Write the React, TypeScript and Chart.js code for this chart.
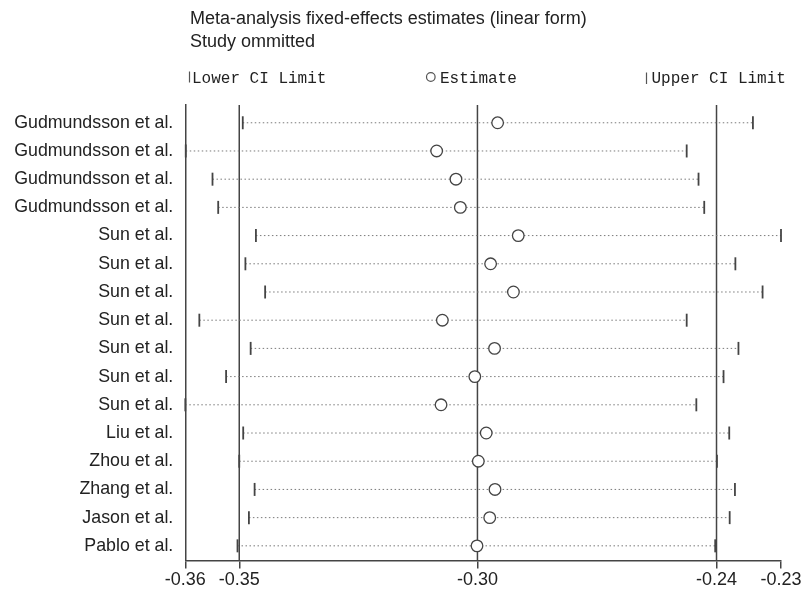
import { useEffect, useRef } from "react";
import { Chart, registerables } from "chart.js";

Chart.register(...registerables);

const studies = [
  "Gudmundsson et al.",
  "Gudmundsson et al.",
  "Gudmundsson et al.",
  "Gudmundsson et al.",
  "Sun et al.",
  "Sun et al.",
  "Sun et al.",
  "Sun et al.",
  "Sun et al.",
  "Sun et al.",
  "Sun et al.",
  "Liu et al.",
  "Zhou et al.",
  "Zhang et al.",
  "Jason et al.",
  "Pablo et al.",
];

const lowerCI = [
  -0.3515, -0.3645, -0.3584, -0.3571, -0.3485, -0.3509, -0.3464, -0.3614,
  -0.3497, -0.3553, -0.3646, -0.3514, -0.3523, -0.3488, -0.3501, -0.3527,
];
const estimates = [
  -0.2934, -0.3073, -0.3029, -0.3019, -0.2887, -0.295, -0.2898, -0.306,
  -0.2941, -0.2986, -0.3063, -0.296, -0.2978, -0.294, -0.2952, -0.2981,
];
const upperCI = [
  -0.2352, -0.2503, -0.2476, -0.2463, -0.2288, -0.2392, -0.233, -0.2503,
  -0.2385, -0.2419, -0.2481, -0.2406, -0.2434, -0.2393, -0.2405, -0.2438,
];

// pooled fixed-effects result: lower CI, estimate, upper CI
const pooledValues = [-0.3523, -0.298, -0.2435];

const titleLines = [
  "Meta-analysis fixed-effects estimates (linear form)",
  "Study ommitted",
];
const legendLabels = ["Lower CI Limit", "Estimate", "Upper CI Limit"];

const Y_MIN = 0.37;
const Y_MAX = 16.52;

export default function App() {
  const canvasRef = useRef<HTMLCanvasElement | null>(null);

  useEffect(() => {
    if (!canvasRef.current) return;
    const xMin = Math.min(...lowerCI);
    const xMax = Math.max(...upperCI);
    const xTicks = [xMin, ...pooledValues, xMax];

    const rows = studies.map((_, i) => i + 1);

    const dotted: any[] = [];
    rows.forEach((y, i) => {
      dotted.push({ x: lowerCI[i], y });
      dotted.push({ x: upperCI[i], y });
      dotted.push({ x: upperCI[i], y: null });
    });

    const textPlugin = {
      id: "texts",
      afterDraw(chart: any) {
        const ctx = chart.ctx as CanvasRenderingContext2D;
        ctx.save();
        ctx.fillStyle = "#222";
        ctx.textAlign = "left";
        ctx.textBaseline = "alphabetic";
        ctx.font = '18px "Liberation Sans", Arial, sans-serif';
        ctx.fillText(titleLines[0], 190, 23.5);
        ctx.fillText(titleLines[1], 190, 46.5);

        ctx.font = '16px "Liberation Mono", "DejaVu Sans Mono", monospace';
        ctx.strokeStyle = "#555";
        ctx.lineWidth = 1.2;
        // lower CI legend
        ctx.beginPath();
        ctx.moveTo(189.5, 71.5);
        ctx.lineTo(189.5, 82.5);
        ctx.stroke();
        ctx.fillText(legendLabels[0], 192, 82.5);
        // estimate legend
        ctx.beginPath();
        ctx.arc(430.8, 77, 4.3, 0, Math.PI * 2);
        ctx.stroke();
        ctx.fillText(legendLabels[1], 440, 82.5);
        // upper CI legend
        ctx.beginPath();
        ctx.moveTo(646.5, 72.5);
        ctx.lineTo(646.5, 84);
        ctx.stroke();
        ctx.fillText(legendLabels[2], 651.5, 82.5);
        ctx.restore();
      },
    };

    const chart = new Chart(canvasRef.current, {
      type: "scatter",
      data: {
        datasets: [
          {
            label: "Estimate",
            data: rows.map((y, i) => ({ x: estimates[i], y })),
            pointStyle: "circle",
            pointRadius: 5.8,
            pointBorderWidth: 1.3,
            pointBorderColor: "#444",
            pointBackgroundColor: "rgba(255,255,255,1)",
            showLine: false,
            order: 0,
            clip: false,
          } as any,
          {
            label: "Lower CI Limit",
            data: rows.map((y, i) => ({ x: lowerCI[i], y })),
            pointStyle: "line",
            rotation: 90,
            pointRadius: 6.5,
            pointBorderWidth: 1.8,
            pointBorderColor: "#444",
            showLine: false,
            order: 1,
            clip: false,
          } as any,
          {
            label: "Upper CI Limit",
            data: rows.map((y, i) => ({ x: upperCI[i], y })),
            pointStyle: "line",
            rotation: 90,
            pointRadius: 6.5,
            pointBorderWidth: 1.8,
            pointBorderColor: "#444",
            showLine: false,
            order: 1,
            clip: false,
          } as any,
          {
            label: "range",
            data: dotted,
            showLine: true,
            spanGaps: false,
            borderColor: "#7a7a7a",
            borderWidth: 1,
            borderDash: [1.5, 2.5],
            pointRadius: 0,
            order: 2,
            clip: false,
          } as any,
          ...pooledValues.map((v) => ({
            label: "pooled",
            data: [
              { x: v, y: Y_MIN },
              { x: v, y: Y_MAX },
            ],
            showLine: true,
            borderColor: "#444",
            borderWidth: 1.5,
            pointRadius: 0,
            order: 3,
          })),
        ],
      },
      options: {
        animation: false,
        responsive: true,
        maintainAspectRatio: false,
        layout: { padding: { top: 105, right: 24, left: 0, bottom: 0 } },
        plugins: {
          legend: { display: false },
          tooltip: { enabled: false },
          title: { display: false },
        },
        scales: {
          x: {
            type: "linear",
            min: xMin,
            max: xMax,
            afterBuildTicks: (scale: any) => {
              scale.ticks = xTicks.map((v) => ({ value: v }));
            },
            afterFit: (scale: any) => {
              scale.height = 28.5;
            },
            ticks: {
              autoSkip: false,
              maxRotation: 0,
              padding: 1,
              color: "#222",
              font: { family: '"Liberation Sans", Arial, sans-serif', size: 18 },
              callback: (v: any) => Number(v).toFixed(2),
            },
            grid: {
              drawOnChartArea: false,
              drawTicks: true,
              tickLength: 8,
              color: "#444",
              lineWidth: 1.5,
            },
            border: { display: true, color: "#444", width: 1.5 },
          },
          y: {
            type: "linear",
            reverse: true,
            min: Y_MIN,
            max: Y_MAX,
            afterBuildTicks: (scale: any) => {
              scale.ticks = rows.map((v) => ({ value: v }));
            },
            afterFit: (scale: any) => {
              scale.width = 185.3;
            },
            ticks: {
              autoSkip: false,
              padding: 12,
              color: "#222",
              font: { family: '"Liberation Sans", Arial, sans-serif', size: 17.8 },
              callback: (v: any) => studies[Math.round(Number(v)) - 1] ?? "",
            },
            grid: { display: false, drawTicks: false },
            border: { display: true, color: "#444", width: 1.5 },
          },
        },
      } as any,
      plugins: [textPlugin],
    });
    return () => chart.destroy();
  }, []);

  return (
    <div
      style={{
        position: "absolute",
        left: 0,
        top: 0,
        width: 805,
        height: 589,
        background: "#fff",
      }}
    >
      <canvas ref={canvasRef} />
    </div>
  );
}
